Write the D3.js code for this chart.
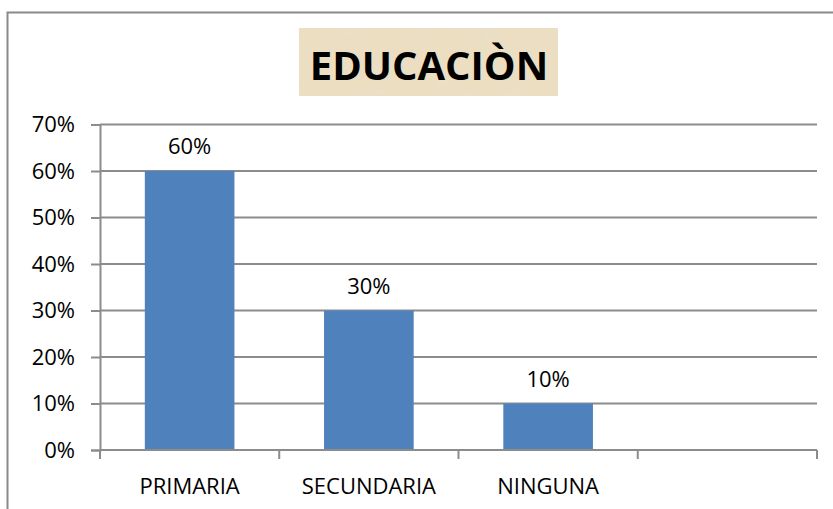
<!DOCTYPE html>
<meta charset="utf-8">
<html>
<head>
<title>Educacion</title>
<script src="https://d3js.org/d3.v7.min.js"></script>
<style>
  body { margin: 0; background: #fff; }
  text { font-family: "Open Sans", sans-serif; fill: #000; }
</style>
</head>
<body>
<svg width="833" height="509"></svg>
<script>
// data
var categories = ["PRIMARIA", "SECUNDARIA", "NINGUNA", ""];
var values = [0.60, 0.30, 0.10, null];
var yTicks = [0, 0.1, 0.2, 0.3, 0.4, 0.5, 0.6, 0.7];
var title = "EDUCACIÒN";

var svg = d3.select("svg"),
    width = 833, height = 509,
    plotLeft = 100, plotRight = 817, plotTop = 124.5, plotBottom = 450;

// texture for the title box
var defs = svg.append("defs");
var f = defs.append("filter").attr("id", "paper").attr("x", 0).attr("y", 0).attr("width", 1).attr("height", 1);
f.append("feTurbulence").attr("type", "fractalNoise").attr("baseFrequency", "0.03 0.12").attr("numOctaves", 3).attr("seed", 4).attr("result", "noise");
f.append("feColorMatrix").attr("in", "noise").attr("type", "matrix")
  .attr("values", "0 0 0 0 0.82  0 0 0 0 0.74  0 0 0 0 0.58  0 0 0 -1.6 1.0").attr("result", "spots");
f.append("feFlood").attr("flood-color", "#ecdec0").attr("result", "base");
f.append("feComposite").attr("in", "spots").attr("in2", "base").attr("operator", "over");

// outer frame
svg.append("path")
  .attr("d", "M7.5,509 V12.5 H833")
  .attr("fill", "none").attr("stroke", "#8a8a8a").attr("stroke-width", 2);

// title
svg.append("rect").attr("x", 299).attr("y", 28).attr("width", 259).attr("height", 68)
  .attr("filter", "url(#paper)").attr("fill", "#ecdec0");
svg.append("text").attr("x", 429).attr("y", 64).attr("text-anchor", "middle")
  .attr("dominant-baseline", "central")
  .style("font-size", "40px").style("font-weight", "bold").text(title);

var x = d3.scaleBand().domain(d3.range(categories.length))
  .range([plotLeft, plotRight]).paddingInner(0.5).paddingOuter(0.25);
var y = d3.scaleLinear().domain([0, 0.7]).range([plotBottom, plotTop]);

// gridlines
svg.append("g").selectAll("line").data(yTicks.slice(1)).join("line")
  .attr("x1", plotLeft).attr("x2", plotRight)
  .attr("y1", d => y(d)).attr("y2", d => y(d))
  .attr("stroke", "#8c8c8c").attr("stroke-width", 2);

// bars
var data = categories.map((c, i) => ({ c: c, i: i, v: values[i] })).filter(d => d.v != null);
svg.append("g").selectAll("rect").data(data).join("rect")
  .attr("x", d => x(d.i)).attr("width", x.bandwidth())
  .attr("y", d => y(d.v)).attr("height", d => y(0) - y(d.v))
  .attr("fill", "#4f81bd");

// data labels
svg.append("g").selectAll("text").data(data).join("text")
  .attr("x", d => x(d.i) + x.bandwidth() / 2)
  .attr("y", d => y(d.v) - 26)
  .attr("text-anchor", "middle").attr("dominant-baseline", "central")
  .style("font-size", "22px")
  .text(d => d3.format(".0%")(d.v));

// y axis
var yAxis = svg.append("g").attr("transform", "translate(" + plotLeft + ",0)")
  .call(d3.axisLeft(y).tickValues(yTicks).tickFormat(d3.format(".0%")).tickSizeOuter(0).tickSize(9).tickPadding(16));
yAxis.selectAll("line, path").attr("stroke", "#8c8c8c").attr("stroke-width", 2);
yAxis.selectAll("text").style("font-size", "22px").style("font-family", "'Open Sans', sans-serif").attr("fill", "#000");

// x axis with ticks at band edges
var edges = d3.range(categories.length + 1).map(i => plotLeft + i * (plotRight - plotLeft) / categories.length);
var xAxis = svg.append("g");
xAxis.append("line").attr("x1", plotLeft).attr("x2", plotRight).attr("y1", plotBottom).attr("y2", plotBottom)
  .attr("stroke", "#8c8c8c").attr("stroke-width", 2);
xAxis.selectAll(".tk").data(edges).join("line").attr("class", "tk")
  .attr("x1", d => d).attr("x2", d => d).attr("y1", plotBottom).attr("y2", plotBottom + 9)
  .attr("stroke", "#8c8c8c").attr("stroke-width", 2);
xAxis.selectAll("text").data(categories).join("text")
  .attr("x", (d, i) => x(i) + x.bandwidth() / 2).attr("y", 485)
  .attr("text-anchor", "middle").attr("dominant-baseline", "central")
  .style("font-size", "22px").text(d => d);
</script>
</body>
</html>
